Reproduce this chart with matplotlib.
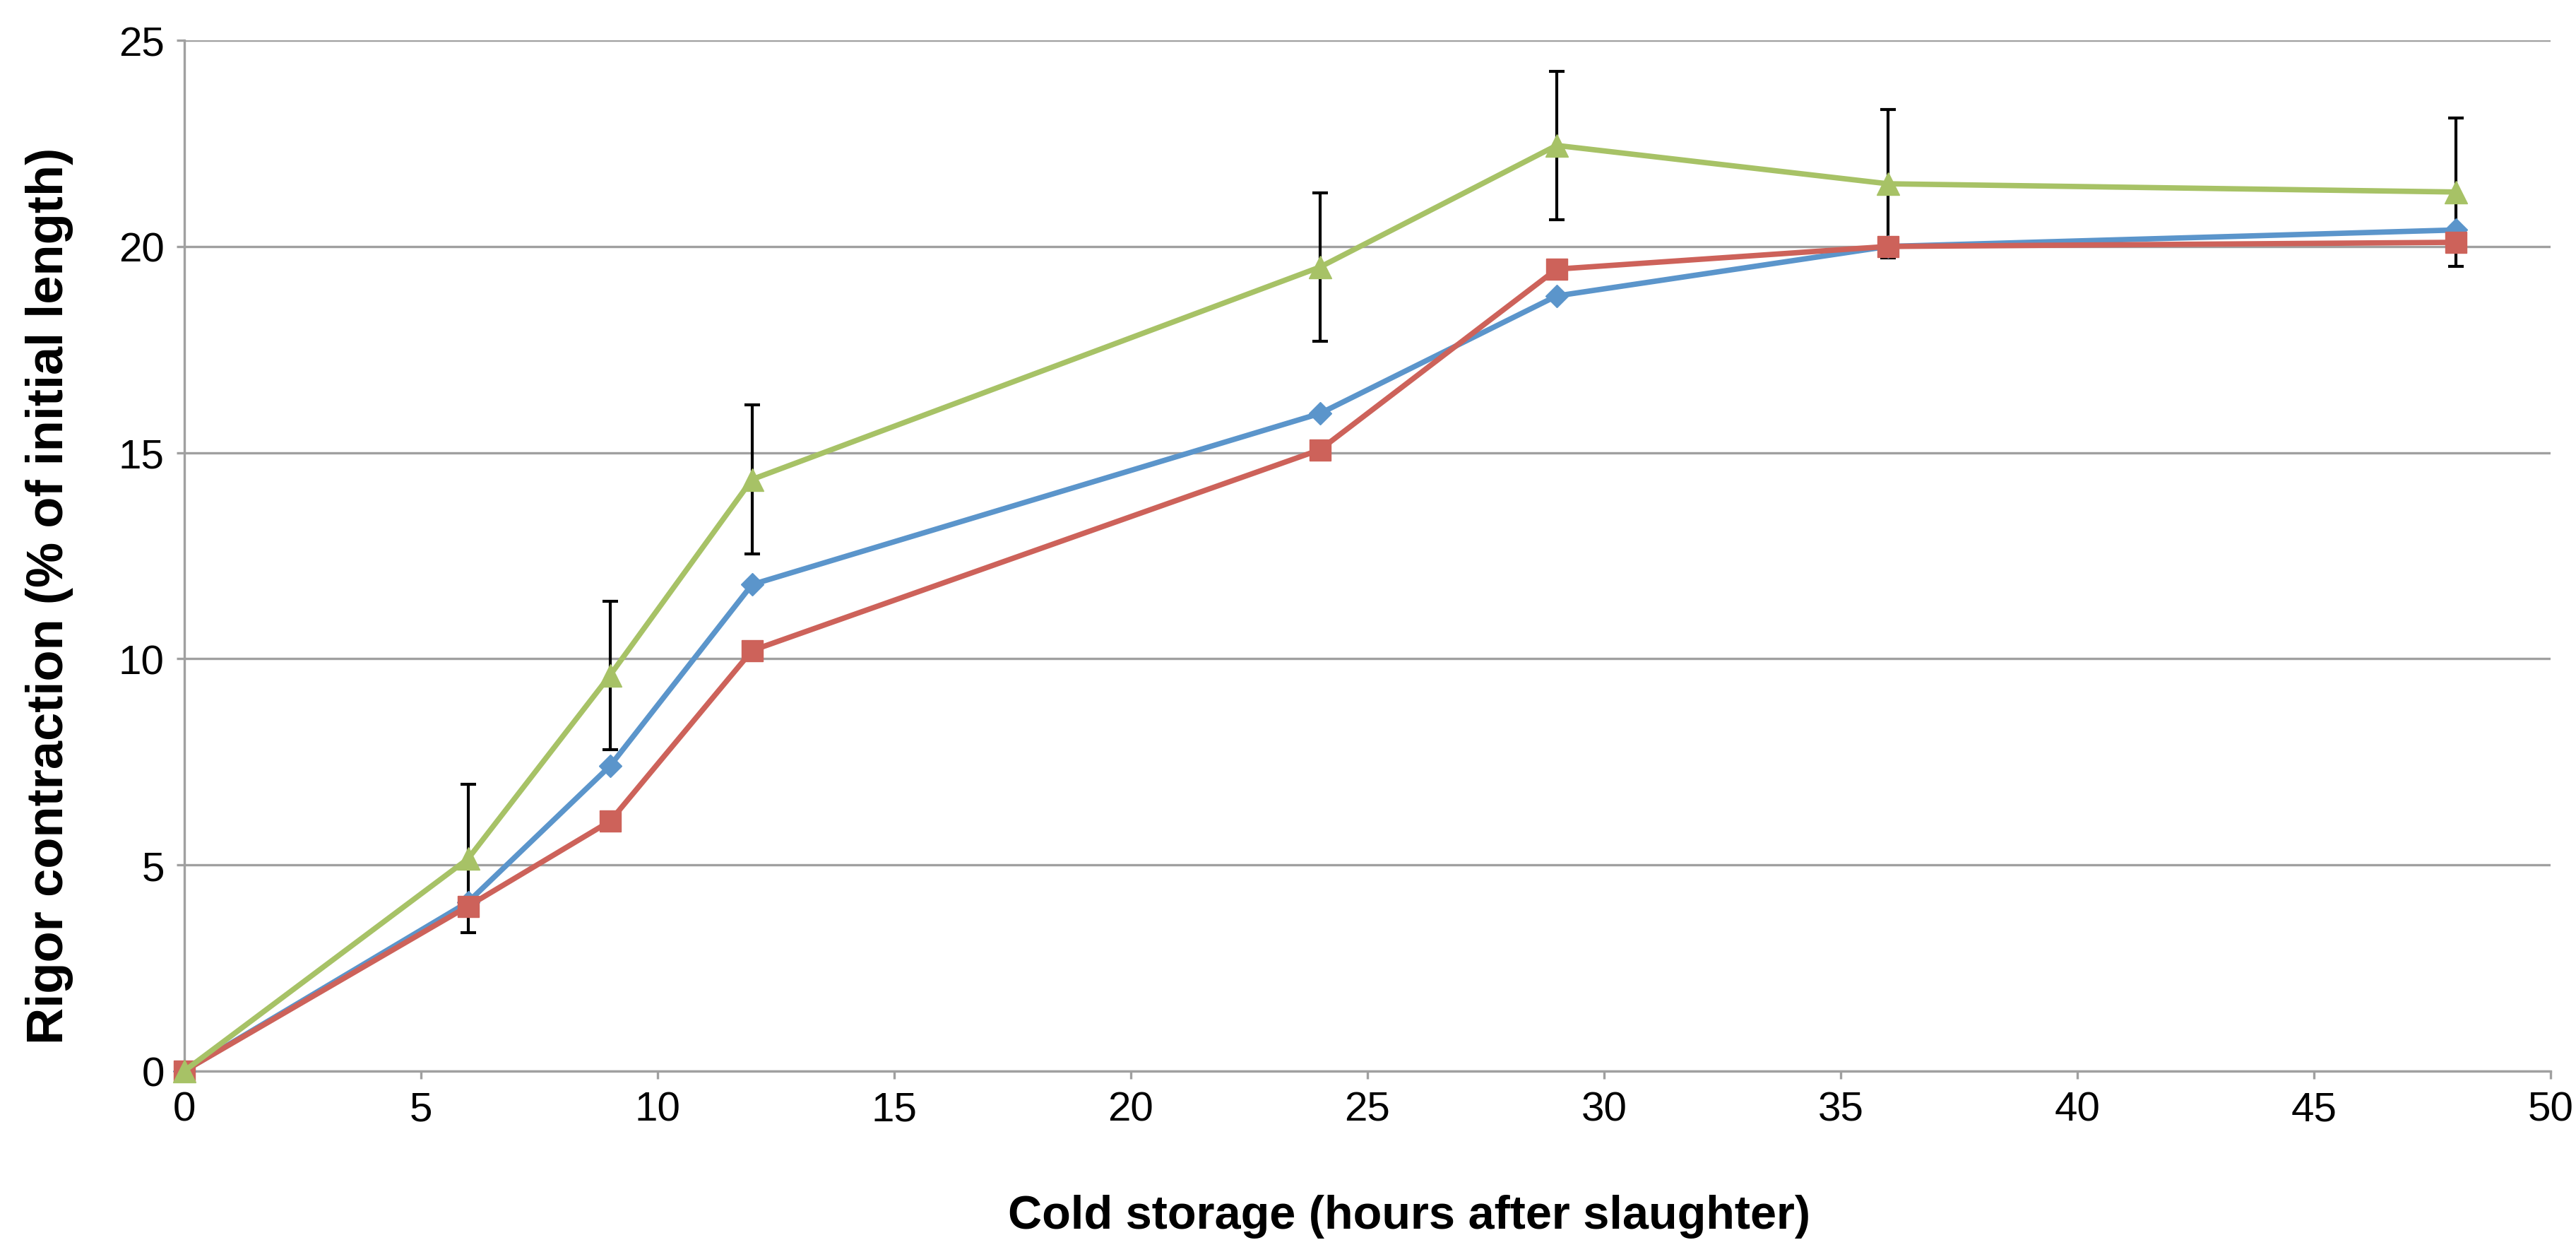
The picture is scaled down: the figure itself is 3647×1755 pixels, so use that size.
import matplotlib
matplotlib.use("Agg")
import matplotlib.pyplot as plt

plt.rcParams['font.family'] = ['Liberation Sans', 'DejaVu Sans']

hours = [0, 6, 9, 12, 24, 29, 36, 48]
series_blue = [0, 4.1, 7.4, 11.8, 15.95, 18.8, 20.0, 20.4]
series_red = [0, 4.0, 6.06, 10.2, 15.07, 19.45, 20.0, 20.1]
series_green = [0, 5.15, 9.6, 14.35, 19.5, 22.45, 21.52, 21.32]
green_err = [0, 1.8, 1.8, 1.8, 1.8, 1.8, 1.8, 1.8]

x_ticks = [0, 5, 10, 15, 20, 25, 30, 35, 40, 45, 50]
y_ticks = [0, 5, 10, 15, 20, 25]

blue = '#5b95cb'
red = '#cd625a'
green = '#a7c266'
grid_c = '#a0a0a0'

fig = plt.figure(figsize=(36.48, 17.56), dpi=100)
ax = fig.add_axes([260.6/3648, 1 - 1517/1756, (3611 - 260.6)/3648, (1517 - 58)/1756])

eb = ax.errorbar(hours[1:], series_green[1:], yerr=green_err[1:], fmt='none',
                 ecolor='black', elinewidth=3, capsize=8, capthick=3, zorder=2)
for art in eb.get_children():
    art.set_clip_on(False)

ax.plot(hours, series_blue, color=blue, lw=5.5, marker='D', ms=16, mec=blue, mfc=blue,
        zorder=3, clip_on=False)
ax.plot(hours, series_red, color=red, lw=5.5, marker='s', ms=22, mec=red, mfc=red,
        zorder=4, clip_on=False)
ax.plot(hours, series_green, color=green, lw=5.5, marker='^', ms=23, mec=green, mfc=green,
        zorder=5, clip_on=False)

ax.set_xlim(0, 50)
ax.set_ylim(0, 25)
ax.set_xticks(x_ticks)
ax.set_yticks(y_ticks)
ax.yaxis.grid(True, color=grid_c, lw=2.4, zorder=0)
ax.set_axisbelow(True)
for s in ['top', 'right']:
    ax.spines[s].set_visible(False)
for s in ['left', 'bottom']:
    ax.spines[s].set_color(grid_c)
    ax.spines[s].set_linewidth(2.4)
ax.tick_params(axis='both', colors=grid_c, width=2.4, length=8, labelcolor='black',
               labelsize=42)
ax.tick_params(axis='x', pad=12)
ax.tick_params(axis='y', pad=12)

fig.text(70/3648, 1 - 843/1756, 'Rigor contraction (% of initial length)', rotation=90,
         ha='center', va='center', fontsize=52, fontweight='bold')
fig.text(1995/3648, 1 - 1722/1756, 'Cold storage (hours after slaughter)',
         ha='center', va='center', fontsize=48, fontweight='bold')

fig.savefig('out.png', dpi=100, facecolor='white')
